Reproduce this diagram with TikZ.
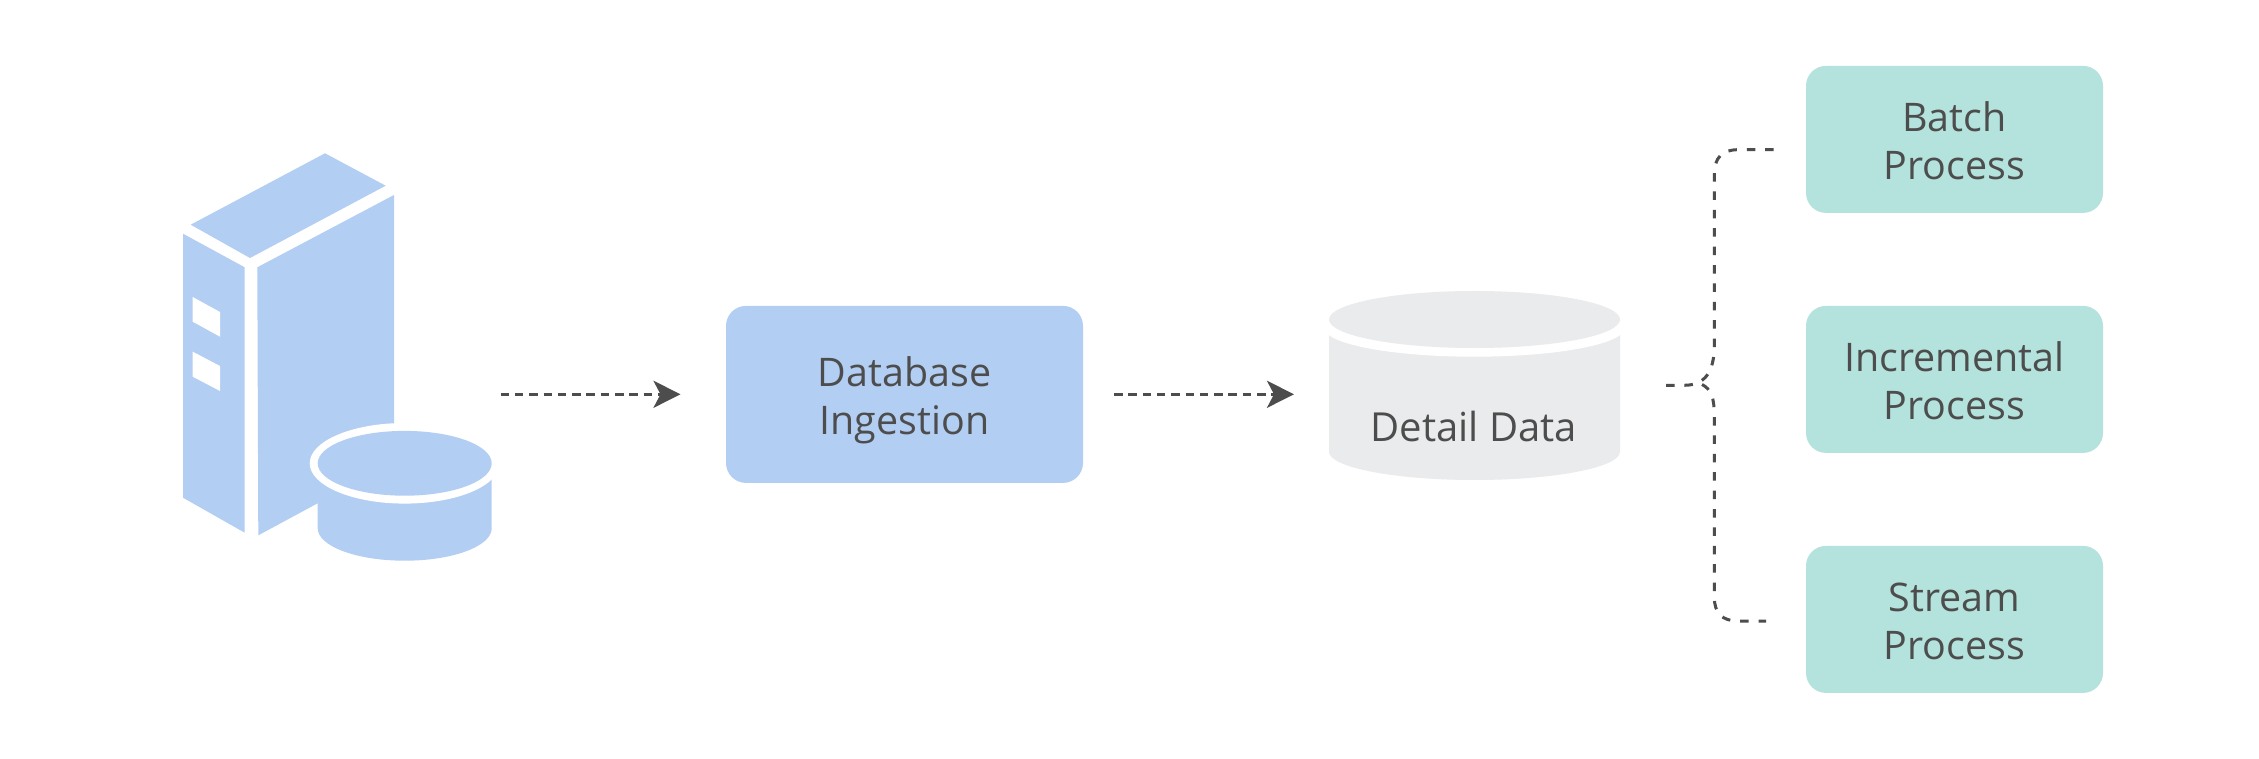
\documentclass[tikz,border=0pt]{standalone}
\usepackage{fontspec}
\setmainfont{Open Sans}
\usetikzlibrary{arrows.meta}
\definecolor{skyfill}{HTML}{B3CEF3}
\definecolor{tealfill}{HTML}{B4E2DC}
\definecolor{greyfill}{HTML}{EAEBED}
\definecolor{ink}{HTML}{4D4D4D}
% Two-line card text with a fixed baseline position
\newcommand{\cardtext}[2]{\rule{0pt}{46.6pt}#1\\#2\strut}
\tikzset{
  card/.style={rounded corners=20pt, inner sep=0pt, align=center, text=ink,
    font=\fontsize{39.4}{48}\selectfont},
  dbcard/.style={card, fill=skyfill, minimum width=357pt, minimum height=177pt},
  jobcard/.style={card, fill=tealfill, minimum width=297pt, minimum height=147pt},
  flow/.style={draw=ink, line width=3pt, dash pattern=on 8.5pt off 5.8pt,
    -{Stealth[length=27pt,width=27pt,inset=7pt,fill=ink]}},
  bracket/.style={draw=ink, line width=3pt, dash pattern=on 8.5pt off 9.9pt, line cap=butt}
}
\begin{document}
\begin{tikzpicture}[x=1pt,y=-1pt]
\useasboundingbox (0,0) rectangle (2259,759);
\fill[white] (0,0) rectangle (2259,759);

% Server tower
\fill[skyfill] (325,153.3) -- (385.7,185.7) -- (250,258) -- (190.7,224.7) -- cycle;
\fill[skyfill] (183,233.7) -- (244.7,267.3) -- (244.7,532.7) -- (183,497.7) -- cycle;
\fill[white] (192.7,297) -- (220,312) -- (220,336.7) -- (192.7,321.7) -- cycle;
\fill[white] (192.7,351.7) -- (220,366) -- (220,391) -- (192.7,376.7) -- cycle;
\fill[skyfill] (257.3,267.3) -- (394,195) -- (394,470) -- (317.7,503.3) -- (258.3,535.3) -- cycle;

% Disk next to the tower
\fill[skyfill] (317.7,463.3) -- (491.7,463.3) -- (491.7,528.3)
  arc[start angle=0, end angle=180, x radius=87, y radius=32.4] -- cycle;
\fill[white] (404.7,463.3) ellipse [x radius=95, y radius=40.3];
\fill[skyfill] (404.7,463.3) ellipse [x radius=87, y radius=32.4];

% Detail store cylinder
\fill[greyfill] (1329,320) -- (1620,320) -- (1620,451.7)
  arc[start angle=0, end angle=180, x radius=145.5, y radius=28.3] -- cycle;
\fill[white] (1474.5,328.2) ellipse [x radius=150, y radius=28.5];
\fill[greyfill] (1474.5,319.5) ellipse [x radius=145.5, y radius=28.5];
\node[anchor=base, inner sep=0pt, text=ink, font=\fontsize{40}{48}\selectfont] (detail) at (1474,441.7) {Detail Data};

% Process cards
\node[dbcard] (ingest) at (904.5,394.4) {\cardtext{Database}{Ingestion}};
\node[jobcard] (batch) at (1954.5,139.4) {\cardtext{Batch}{Process}};
\node[jobcard] (incr) at (1954.5,379.4) {\cardtext{Incremental}{Process}};
\node[jobcard] (stream) at (1954.5,619.4) {\cardtext{Stream}{Process}};

% Flow arrows
\coordinate (a1s) at (500.6,394.3);
\coordinate (a1e) at (680.5,394.3);
\coordinate (a2s) at (1114,394.3);
\coordinate (a2e) at (1294,394.3);
\draw[flow] (a1s) -- (a1e);
\draw[flow] (a2s) -- (a2e);

% Branching bracket towards the three cards
\coordinate (brIn) at (1666,385.3);
\coordinate (brFork) at (1702,384.5);
\coordinate (brTop) at (1775,149.7);
\coordinate (brBot) at (1766,621);
\draw[bracket] (brIn) -- (1684,385.3) .. controls (1705,385.3) and (1714.3,372) .. (1714.3,345)
  -- (1714.3,174) .. controls (1714.3,158) and (1722,149.7) .. (1738,149.7) -- (brTop);
\draw[bracket] (brFork) .. controls (1711,389) and (1714.3,398) .. (1714.3,415)
  -- (1714.3,597) .. controls (1714.3,613) and (1722,621) .. (1738,621) -- (brBot);
\end{tikzpicture}
\end{document}
